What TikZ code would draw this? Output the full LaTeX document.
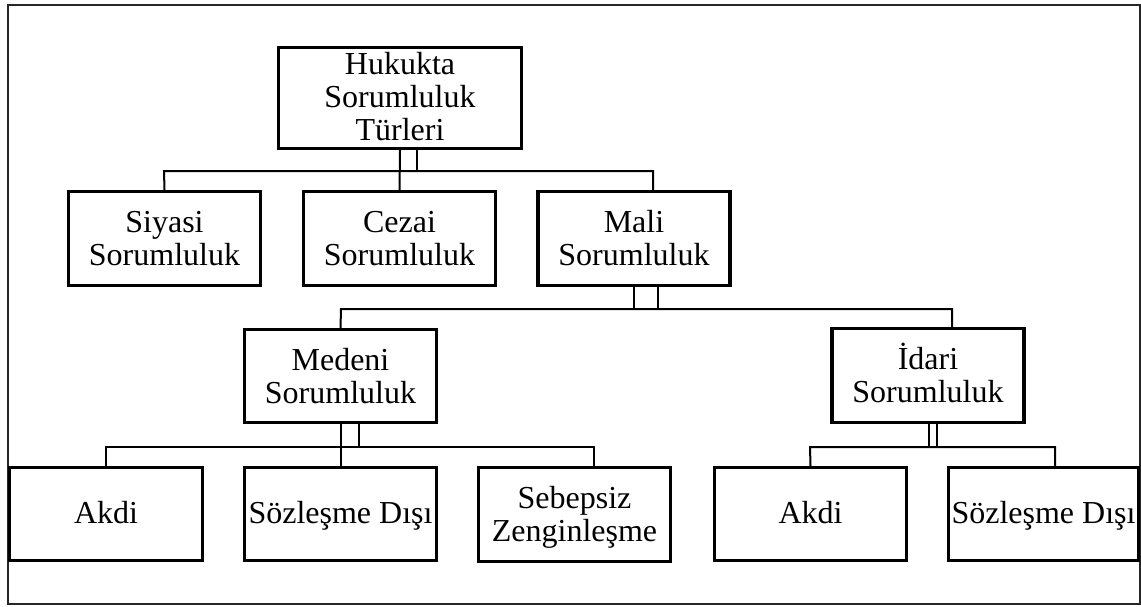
\documentclass[tikz,border=0pt]{standalone}
\usepackage{fontspec}
\setmainfont{Liberation Serif}
\newcommand\mylines[1]{\begin{tabular}[t]{@{}c@{}}#1\end{tabular}}
\begin{document}
\begin{tikzpicture}[x=1pt,y=-1pt,
  box/.style={draw=black,line width=3.2pt,inner sep=0pt,
    minimum width=192pt,minimum height=94pt,
    font=\fontsize{32}{33}\selectfont},
  oneline/.style={text height=18pt,text depth=0pt},
  twoline/.style={text height=0pt,text depth=12pt},
  threeline/.style={text height=0pt,text depth=48pt},
  conn/.style={draw=black,line width=2pt},
  frame/.style={draw=black!85,line width=1.6pt}]
\useasboundingbox (0,0) rectangle (1141,606);
\draw[frame] (8,5) rectangle (1140,604);
% nodes
\node[box,threeline,minimum width=243pt,minimum height=101pt] (top) at (400,98) {\mylines{Hukukta\\Sorumluluk\\Türleri}};
\node[box,twoline] (siyasi) at (164.5,238.5) {\mylines{Siyasi\\Sorumluluk}};
\node[box,twoline] (cezai) at (399.5,238.5) {\mylines{Cezai\\Sorumluluk}};
\node[box,twoline] (mali) at (634,238.5) {\mylines{Mali\\Sorumluluk}};
\node[box,twoline,minimum height=93pt] (medeni) at (340.5,376) {\mylines{Medeni\\Sorumluluk}};
\node[box,twoline,minimum height=94pt] (idari) at (928,375.5) {\mylines{İdari\\Sorumluluk}};
\node[box,oneline,minimum width=193pt,minimum height=93pt] (akdiA) at (106,514) {Akdi};
\node[box,oneline,minimum height=93pt] (sozA) at (340.5,514) {Sözleşme Dışı};
\node[box,twoline,minimum height=94pt] (seb) at (574.5,514.5) {\mylines{Sebepsiz\\Zenginleşme}};
\node[box,oneline,minimum height=93pt] (akdiB) at (810.5,514) {Akdi};
\node[box,oneline,minimum width=190pt,minimum height=93pt] (sozB) at (1043.5,514) {Sözleşme Dışı};
% bus coordinates
\coordinate (b1l) at (164,171);
\coordinate (b1r) at (653,171);
\coordinate (b2l) at (341,309);
\coordinate (b2r) at (952,309);
\coordinate (b3l) at (106,447);
\coordinate (b3r) at (594,447);
\coordinate (b4l) at (810,447);
\coordinate (b4r) at (1055,447);
% level 1
\draw[conn] (top.south) -- (cezai.north);
\draw[conn] ([xshift=17pt]top.south) -- ([xshift=17pt]top.south |- b1l);
\draw[conn] (siyasi.north) -- (b1l) -- (b1r) -- (b1r |- mali.north);
% level 2
\draw[conn] (mali.south) -- (mali.south |- b2l);
\draw[conn] ([xshift=24pt]mali.south) -- ([xshift=24pt]mali.south |- b2l);
\draw[conn] (medeni.north) -- (b2l) -- (b2r) -- (b2r |- idari.north);
% level 3 (Medeni)
\draw[conn] (medeni.south) -- (sozA.north);
\draw[conn] ([xshift=18pt]medeni.south) -- ([xshift=18pt]medeni.south |- b3l);
\draw[conn] (akdiA.north) -- (b3l) -- (b3r) -- (b3r |- seb.north);
% level 3 (Idari)
\draw[conn] ([xshift=1pt]idari.south) -- ([xshift=1pt]idari.south |- b4l);
\draw[conn] ([xshift=9pt]idari.south) -- ([xshift=9pt]idari.south |- b4l);
\draw[conn] (akdiB.north) -- (b4l) -- (b4r) -- (b4r |- sozB.north);
\end{tikzpicture}
\end{document}
